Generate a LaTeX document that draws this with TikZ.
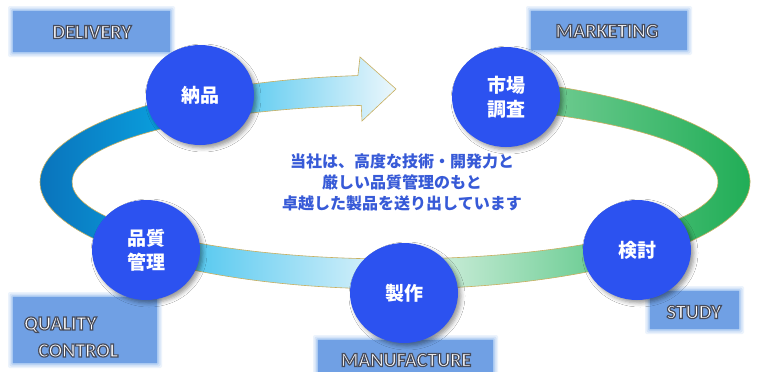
\documentclass[tikz,border=0pt]{standalone}
\usepackage{fontspec}
\setmainfont{Carlito}
\newfontfamily\jp{Noto Sans CJK JP}
\usetikzlibrary{calc,shapes.geometric,shadows.blur}
\definecolor{circblue}{RGB}{44,82,240}
\definecolor{boxblue}{RGB}{112,160,228}
\definecolor{boxedge}{RGB}{160,195,240}
\definecolor{gold}{RGB}{200,175,95}
\definecolor{blueL}{RGB}{10,108,182}
\definecolor{blueR}{RGB}{10,178,236}
\definecolor{cyanA}{RGB}{45,188,236}
\definecolor{paleA}{RGB}{236,247,252}
\definecolor{greenL}{RGB}{140,214,166}
\definecolor{greenR}{RGB}{18,168,76}
\definecolor{greenB}{RGB}{70,192,120}
\definecolor{paleG}{RGB}{236,248,241}
\definecolor{midtext}{RGB}{55,90,215}
\newcommand\outtxt[1]{\special{pdf:literal direct 2 Tr 1.2 w 0.28 0.30 0.36 RG}#1\special{pdf:literal direct 0 Tr}}
\tikzset{
  circnode/.style={ellipse, minimum width=108pt, minimum height=100pt, inner sep=0pt,
    fill=circblue, text=white, align=center,
    font=\jp\bfseries\fontsize{19}{24}\selectfont,
    blur shadow={shadow xshift=3pt, shadow yshift=-3pt, shadow blur radius=4pt}},
  lbl/.style={text=white, font=\bfseries\fontsize{20}{27}\selectfont, inner sep=0pt},
  band/.style={draw=gold, line width=0.6pt}
}
\newcommand\glowbox[2]{%
  \foreach \e/\o in {5/0.2,3.5/0.3,2/0.45,1/0.7}{%
    \fill[boxedge, opacity=\o, rounded corners=2pt] ($(#1)+(-\e,-\e)$) rectangle ($(#2)+(\e,\e)$);}%
  \fill[boxblue] (#1) rectangle (#2);}
\newcommand\bandseg[4]{%
  \shade[band, left color=#3, right color=#4]
    ($(C)+(#1:355 and 107)$) arc[start angle=#1, end angle=#2, x radius=355, y radius=107]
    -- ($(C)+(#2:323 and 77)$) arc[start angle=#2, end angle=#1, x radius=323, y radius=77] -- cycle;}
\begin{document}
\begin{tikzpicture}[x=1pt,y=-1pt]
\useasboundingbox[fill=white] (0,0) rectangle (763,372);
\coordinate (C) at (395,182);
% ring segments
\bandseg{137}{237}{blueL}{blueR}
\bandseg{88}{137}{cyanA}{paleA}
\bandseg{42}{92}{paleG}{greenB}
\bandseg{284}{406}{greenL}{greenR}
% arrow
\shade[band, left color=cyanA, right color=paleA]
  ($(C)+(235:355 and 107)$) arc[start angle=235, end angle=264, x radius=355, y radius=107]
  -- (360,57) -- (396,89) -- (362,121)
  -- ($(C)+(264:323 and 77)$) arc[start angle=264, end angle=235, x radius=323, y radius=77] -- cycle;
% label boxes
\coordinate (d1) at (13,11);  \coordinate (d2) at (170,52);
\coordinate (m1) at (531,11); \coordinate (m2) at (687,50);
\coordinate (q1) at (13,297); \coordinate (q2) at (157,363);
\coordinate (f1) at (318,340); \coordinate (f2) at (493,385);
\coordinate (s1) at (650,291); \coordinate (s2) at (739,329);
\glowbox{d1}{d2}
\glowbox{m1}{m2}
\glowbox{q1}{q2}
\glowbox{f1}{f2}
\glowbox{s1}{s2}
\node[lbl] (tdel) at (92,32) {\outtxt{DELIVERY}};
\node[lbl] (tmkt) at (607,31) {\outtxt{MARKETING}};
\node[lbl, align=left, anchor=west] (tqc) at (24,337) {\outtxt{QUALITY}\\\hspace*{14pt}\outtxt{CONTROL}};
\node[lbl] (tman) at (406,360) {\outtxt{MANUFACTURE}};
\node[lbl] (tstu) at (694,312) {\outtxt{STUDY}};
% circles
\node[circnode] (nohin) at (200,95) {納品};
\node[circnode] (shijo) at (506,97) {市場\\調査};
\node[circnode] (hinshitsu) at (146,250) {品質\\管理};
\node[circnode] (seisaku) at (404,293) {製作};
\node[circnode] (kento) at (637,250) {検討};
% central text
\node[text=midtext, align=center, font=\jp\bfseries\fontsize{16}{21}\selectfont] (msg) at (402,182)
  {当社は、高度な技術・開発力と\\厳しい品質管理のもと\\卓越した製品を送り出しています};
\end{tikzpicture}
\end{document}
